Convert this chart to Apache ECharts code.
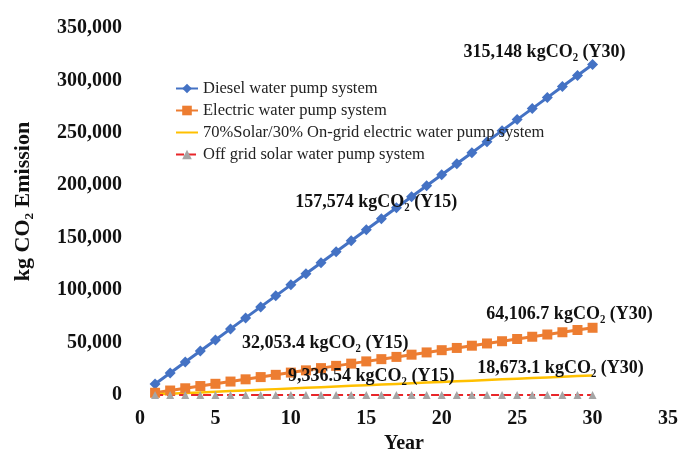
<!DOCTYPE html>
<html>
<head>
<meta charset="utf-8">
<title>CO2 emission</title>
<script src="https://cdn.jsdelivr.net/npm/echarts@6/dist/echarts.min.js"></script>
<style>
  html, body {margin: 0; padding: 0; background: #fff;}
  #main {width: 681px; height: 452px;}
</style>
</head>
<body>
<div id="main"></div>
<script type="text/javascript">
// years 1..30
var years = [1,2,3,4,5,6,7,8,9,10,11,12,13,14,15,16,17,18,19,20,21,22,23,24,25,26,27,28,29,30];
var seriesNames = ['Diesel water pump system', 'Electric water pump system',
                   '70%Solar/30% On-grid electric water pump system', 'Off grid solar water pump system'];
var diesel = [10505,21010,31515,42020,52525,63030,73535,84039,94544,105049,
              115554,126059,136564,147069,157574,168079,178584,189089,199594,210099,
              220604,231108,241613,252118,262623,273128,283633,294138,304643,315148];
var electric = [2137,4274,6411,8548,10684,12821,14958,17095,19232,21369,
                23506,25643,27780,29916,32053.4,34190,36327,38464,40601,42738,
                44875,47012,49148,51285,53422,55559,57696,59833,61970,64106.7];
var solarGrid = [622,1245,1867,2490,3112,3735,4357,4979,5602,6224,
                 6847,7469,8092,8714,9336.54,9959,10581,11204,11826,12449,
                 13071,13694,14316,14938,15561,16183,16806,17428,18051,18673.1];
var offGrid = [0,0,0,0,0,0,0,0,0,0,0,0,0,0,0,0,0,0,0,0,0,0,0,0,0,0,0,0,0,0];
// annotation texts (Y15 / Y30)
var notes = {
  diesel: ['157,574 kgCO₂ (Y15)', '315,148 kgCO₂ (Y30)'],
  electric: ['32,053.4 kgCO₂ (Y15)', '64,106.7 kgCO₂ (Y30)'],
  solar: ['9,336.54 kgCO₂ (Y15)', '18,673.1 kgCO₂ (Y30)']
};

var serif = "'Liberation Serif', 'Times New Roman', serif";

function noteLabel(text, off){
  return {
    show: true, position: 'inside', offset: off,
    formatter: text, color: '#111', fontFamily: serif,
    fontWeight: 'bold', fontSize: 18
  };
}

function pairs(vals){
  var out = [];
  for (var i = 0; i < years.length; i++) out.push([years[i], vals[i]]);
  return out;
}

// Y15 and Y30 notes as mark points on the data
function notePoints(vals, texts, offs){
  return {
    symbol: 'circle', symbolSize: 0, silent: true,
    data: [
      {coord: [years[14], vals[14]], label: noteLabel(texts[0], offs[0])},
      {coord: [years[29], vals[29]], label: noteLabel(texts[1], offs[1])}
    ]
  };
}

var myChart = echarts.init(document.getElementById('main'));
var option = {
  backgroundColor: '#fff',
  animation: false,
  grid: {left: 140, right: 13, top: 28, bottom: 57, outerBoundsMode: 'none'},
  legend: {
    orient: 'vertical', left: 170, top: 75,
    itemWidth: 22, itemHeight: 12, itemGap: 5,
    textStyle: {fontFamily: serif, fontSize: 16.5, color: '#222'},
    data: [
      seriesNames[0],
      seriesNames[1],
      {name: seriesNames[2], itemStyle: {opacity: 0}},
      seriesNames[3]
    ]
  },
  xAxis: {
    type: 'value', min: 0, max: 35, interval: 5,
    name: 'Year', nameLocation: 'middle', nameGap: 37,
    nameTextStyle: {fontFamily: serif, fontWeight: 'bold', fontSize: 20, color: '#111'},
    axisLine: {show: false}, axisTick: {show: false}, splitLine: {show: false},
    axisLabel: {fontFamily: serif, fontWeight: 'bold', fontSize: 20, color: '#111', margin: 14}
  },
  yAxis: {
    type: 'value', min: 0, max: 350000, interval: 50000,
    name: 'kg CO₂ Emission', nameLocation: 'middle', nameGap: 106, nameRotate: 90,
    nameTextStyle: {fontFamily: serif, fontWeight: 'bold', fontSize: 22, color: '#111',
                    padding: [0, 0, 0, 20]},
    axisLine: {show: false}, axisTick: {show: false}, splitLine: {show: false},
    axisLabel: {
      fontFamily: serif, fontWeight: 'bold', fontSize: 20, color: '#111', margin: 18,
      formatter: function(v){ return v.toLocaleString('en-US'); }
    }
  },
  series: [
    {
      name: seriesNames[0], type: 'line', symbol: 'diamond', symbolSize: 11,
      color: '#4472C4', lineStyle: {width: 3},
      data: pairs(diesel),
      markPoint: notePoints(diesel, notes.diesel, [[10, -27], [-48, -12]])
    },
    {
      name: seriesNames[1], type: 'line', symbol: 'rect', symbolSize: 10,
      color: '#ED7D31', lineStyle: {width: 3},
      data: pairs(electric),
      markPoint: notePoints(electric, notes.electric, [[-41, -18], [-23, -13]])
    },
    {
      name: seriesNames[2], type: 'line', symbol: 'none',
      color: '#FFC000', lineStyle: {width: 2.5},
      data: pairs(solarGrid),
      markPoint: notePoints(solarGrid, notes.solar, [[5, -9], [-32, -7]])
    },
    {
      name: seriesNames[3], type: 'line', symbol: 'triangle', symbolSize: 8,
      itemStyle: {color: '#A5A5A5'},
      lineStyle: {color: '#E8262A', width: 2, type: 'dashed'},
      data: pairs(offGrid)
    }
  ]
};
myChart.setOption(option);
</script>
</body>
</html>
